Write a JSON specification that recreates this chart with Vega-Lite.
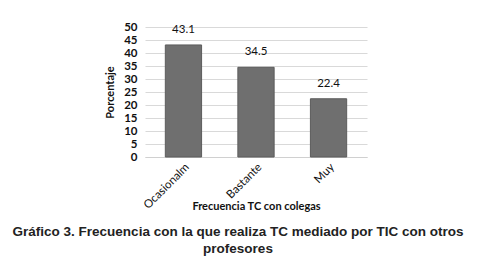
{
  "$schema": "https://vega.github.io/schema/vega-lite/v6.json",
  "autosize": "none",
  "width": 222,
  "height": 130,
  "padding": {"left": 145, "top": 27, "right": 110, "bottom": 110},
  "background": "white",
  "data": {"values": [
    {"categoria": "Ocasionalm", "porcentaje": 43.1},
    {"categoria": "Bastante", "porcentaje": 34.5},
    {"categoria": "Muy", "porcentaje": 22.4}
  ]},
  "title": {
    "text": ["Gráfico 3. Frecuencia con la que realiza TC mediado por TIC con otros", "profesores"],
    "orient": "bottom",
    "anchor": "middle",
    "font": "Liberation Sans",
    "fontSize": 13.5,
    "fontWeight": "bold",
    "color": "#222222",
    "lineHeight": 17,
    "dx": -18,
    "offset": 14
  },
  "config": {
    "view": {"stroke": null},
    "axis": {"labelFont": "Lato", "titleFont": "Lato", "labelColor": "#111111", "titleColor": "#111111"}
  },
  "encoding": {
    "x": {
      "field": "categoria", "type": "nominal", "sort": null,
      "scale": {"paddingInner": 0.5, "paddingOuter": 0.28, "align": 0.5},
      "axis": {
        "title": "Frecuencia TC con colegas",
        "titleFontSize": 11,
        "titleFontWeight": "bold",
        "titleY": 52,
        "titleBaseline": "alphabetic",
        "labelAngle": -45,
        "labelFontSize": 11.5,
        "labelPadding": 4,
        "ticks": false,
        "domain": true,
        "domainColor": "#d0d0d0"
      }
    },
    "y": {
      "field": "porcentaje", "type": "quantitative",
      "scale": {"domain": [0, 50], "nice": false},
      "axis": {
        "title": "Porcentaje",
        "titleFontSize": 11,
        "titleFontWeight": "bold",
        "titlePadding": 8,
        "values": [0, 5, 10, 15, 20, 25, 30, 35, 40, 45, 50],
        "labelOverlap": false,
        "labelFontSize": 11.5,
        "labelFontWeight": "bold",
        "labelPadding": 8,
        "ticks": false,
        "domain": false,
        "gridColor": "#d9d9d9",
        "gridWidth": 1
      }
    }
  },
  "layer": [
    {
      "mark": {"type": "bar", "color": "#6f6f6f", "stroke": "#5c5c5c", "strokeWidth": 1}
    },
    {
      "mark": {"type": "text", "dy": -10, "font": "Lato", "fontSize": 11.5, "color": "#111111", "baseline": "bottom"},
      "encoding": {
        "text": {"field": "porcentaje", "type": "quantitative", "format": ".1f"}
      }
    }
  ]
}
